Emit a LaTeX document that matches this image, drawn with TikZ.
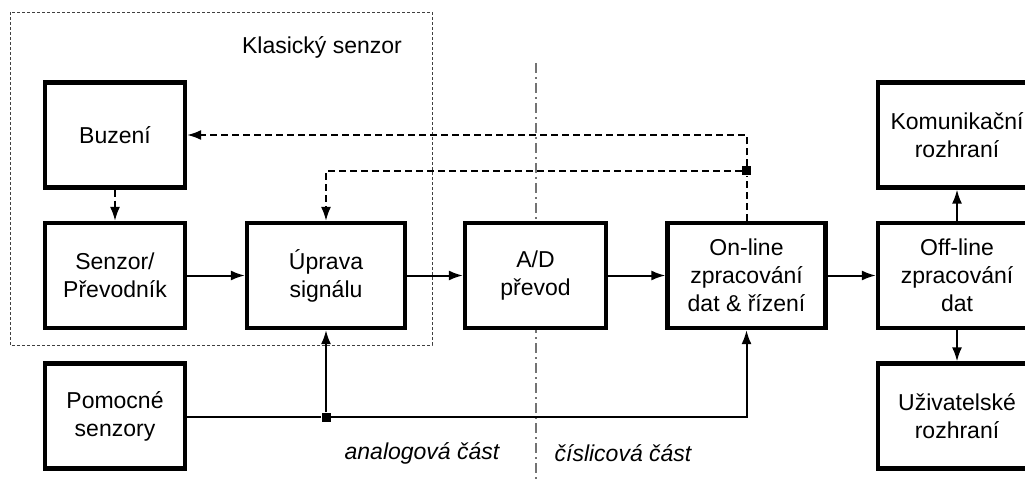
\documentclass[tikz,border=0pt]{standalone}
\usepackage{fontspec}
\setmainfont{Liberation Sans}
\usetikzlibrary{positioning,arrows.meta}

\begin{document}
\begin{tikzpicture}[
    x=1pt, y=-1pt,
    font=\fontsize{23}{28}\selectfont,
    block/.style={draw, line width=4.2pt, fill=white, align=center, minimum width=140pt, minimum height=105pt, inner sep=2pt},
    wideblock/.style={block, minimum width=158pt},
    signal/.style={-{Latex[length=14pt,width=10pt]}, line width=2pt},
    ctrl/.style={signal, dashed, dash pattern=on 7pt off 4pt},
    junct/.style={fill, rectangle, minimum size=9pt, inner sep=0pt},
    border/.style={draw=black!75, dashed, dash pattern=on 3pt off 2pt, line width=0.9pt}
]
\useasboundingbox (0,0) rectangle (1025,481);

% Dividing line between analog and digital part
\draw[black!55, line width=1.6pt, dash pattern=on 10pt off 4pt on 2pt off 4pt] (536,63) -- (536,481);

% Classic sensor frame
\draw[border] (10,12) rectangle (432,345);
\node (klasicky) at (322,47) {Klasický senzor};

% Blocks
\node[block] (buzeni) at (115,135) {Buzení};
\node[block] (senzor) at (115,275.5) {Senzor/\\Převodník};
\node[wideblock] (uprava) at (326,275.5) {Úprava\\signálu};
\node[block] (pomocne) at (115,416) {Pomocné\\senzory};
\node[block, minimum width=141pt] (ad) at (535.5,275.5) {A/D\\převod};
\node[wideblock] (online) at (746.5,275.5) {On-line\\zpracování\\dat \& řízení};
\node[wideblock] (offline) at (957,275.5) {Off-line\\zpracování\\dat};
\node[wideblock] (komunik) at (957,135) {Komunikační\\rozhraní};
\node[wideblock] (uzivat) at (957,416) {Uživatelské\\rozhraní};

% Junctions
\node[junct] (jctrl) at (746.5,171) {};
\node[junct] (jaux) at (326,417) {};

% Signal path
\draw[signal] (senzor) -- (uprava);
\draw[signal] (uprava) -- (ad);
\draw[signal] (ad) -- (online);
\draw[signal] (online) -- (offline);
\draw[signal] (offline) -- (komunik);
\draw[signal] (offline) -- (uzivat);

% Control (dashed)
\draw[ctrl] (buzeni) -- (senzor);
\draw[ctrl, -] (online.north) -- (jctrl);
\draw[ctrl] (jctrl) -- (jctrl |- buzeni.east) -- (buzeni.east);
\draw[ctrl] (jctrl) -- (jctrl -| uprava.north) -- (uprava.north);

% Auxiliary sensors
\draw[signal, -] (pomocne.east |- jaux) -- (jaux);
\draw[signal] (jaux) -- (uprava.south);
\draw[signal] (jaux) -- (jaux -| online.south) -- (online.south);

% Part labels
\node[font=\fontsize{23}{28}\selectfont\itshape] (analog) at (422,453) {analogová část};
\node[font=\fontsize{23}{28}\selectfont\itshape] (digital) at (623,453) {číslicová část};

\end{tikzpicture}
\end{document}
